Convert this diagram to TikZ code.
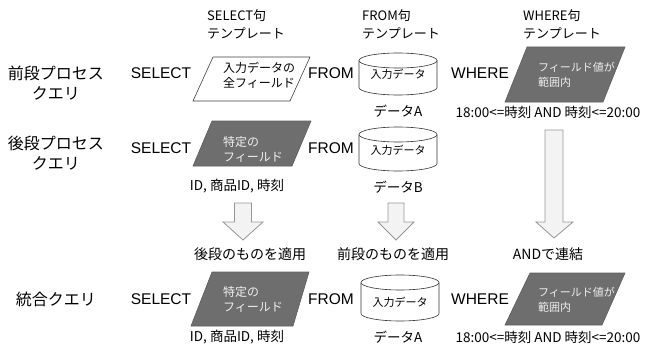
\documentclass[tikz,border=0pt]{standalone}
\usepackage{fontspec}
\setmainfont{Noto Sans CJK JP}
\newfontfamily\lat{Liberation Sans}
\usetikzlibrary{calc}
\definecolor{pgray}{RGB}{110,110,110}
\definecolor{ptext}{RGB}{238,238,238}
\definecolor{afill}{RGB}{243,243,243}
\definecolor{aline}{RGB}{150,150,150}
\begin{document}
\begin{tikzpicture}[x=1pt,y=-1pt,
  lbl/.style={font=\fontsize{16}{20}\selectfont, align=center, inner sep=0pt},
  kw/.style={font=\lat\fontsize{15.5}{19}\selectfont, inner sep=0pt},
  hdr/.style={font=\fontsize{13}{18}\selectfont, align=left, anchor=west, inner sep=0pt},
  captxt/.style={font=\fontsize{13.5}{16}\selectfont, inner sep=0pt},
  mid/.style={font=\fontsize{14}{16}\selectfont, inner sep=0pt},
  ptw/.style={font=\fontsize{12}{15}\selectfont, align=left, anchor=west, inner sep=0pt, text=black},
  ptg/.style={font=\fontsize{12}{15}\selectfont, align=left, anchor=west, inner sep=0pt, text=ptext},
  ptgs/.style={font=\fontsize{11}{15}\selectfont, align=left, anchor=west, inner sep=0pt, text=ptext},
  cyltxt/.style={font=\fontsize{11}{14}\selectfont, inner sep=0pt},
  pwhite/.style={draw=black!75, fill=white, line width=0.6pt},
  pdark/.style={draw=pgray!85!black, fill=pgray, line width=0.6pt},
  cylst/.style={draw=black!80, fill=white, line width=0.6pt},
  arr/.style={fill=afill, draw=aline, line width=0.8pt, line join=miter}
]
\useasboundingbox (0,0) rectangle (645,353);

% headers
\node[hdr] (hs) at (207,24) {SELECT句\\テンプレート};
\node[hdr] (hf) at (362,24) {FROM句\\テンプレート};
\node[hdr] (hw) at (523,24) {WHERE句\\テンプレート};

% left labels
\node[lbl] (q1) at (56,83) {前段プロセス\\クエリ};
\node[lbl] (q2) at (56,153) {後段プロセス\\クエリ};
\node[lbl] (q3) at (56,299) {統合クエリ};

% keywords
\node[kw] (s1) at (161,73) {SELECT};
\node[kw] (s2) at (161,148) {SELECT};
\node[kw] (s3) at (161,299) {SELECT};
\node[kw] (f1) at (331,73) {FROM};
\node[kw] (f2) at (331,148) {FROM};
\node[kw] (f3) at (331,299) {FROM};
\node[kw] (w1) at (480,73) {WHERE};
\node[kw] (w3) at (480,299) {WHERE};

% SELECT parallelograms
\begin{scope}[shift={(251.5,79)}]
  \draw[pwhite] (-58.5,22) -- (38.5,22) -- (58.5,-22) -- (-38.5,-22) -- cycle;
\end{scope}
\node[ptw] (sp1) at (223,75) {入力データの\\全フィールド};
\begin{scope}[shift={(252,143.5)}]
  \draw[pdark] (-59,22.5) -- (40,22.5) -- (59,-22.5) -- (-40,-22.5) -- cycle;
\end{scope}
\node[ptg] (sp2) at (223,149) {特定の\\フィールド};
\begin{scope}[shift={(250,299)}]
  \draw[pdark] (-59,27) -- (43,27) -- (59,-27) -- (-38,-27) -- cycle;
\end{scope}
\node[ptg] (sp3) at (223,299.5) {特定の\\フィールド};

% WHERE parallelograms
\begin{scope}[shift={(565,74.5)}]
  \draw[pdark] (-60,27.5) -- (38,27.5) -- (60,-27.5) -- (-38,-27.5) -- cycle;
\end{scope}
\node[ptgs] (wp1) at (538,74.5) {フィールド値が\\範囲内};
\begin{scope}[shift={(565,299)}]
  \draw[pdark] (-60,26) -- (37,26) -- (60,-26) -- (-35,-26) -- cycle;
\end{scope}
\node[ptgs] (wp3) at (538,299.5) {フィールド値が\\範囲内};

% cylinders: center x / top / bottom / text y
\foreach \cx/\ct/\cb/\ty/\nm in {398/53/95/74/c1, 398/127/171/150/c2, 400/275/321/302/c3}{
  \draw[cylst] (\cx-39,\ct+7.5) -- (\cx-39,\cb-7.5) arc (180:0:39 and 7.5) -- (\cx+39,\ct+7.5);
  \draw[cylst] (\cx,\ct+7.5) ellipse (39 and 7.5);
  \node[cyltxt] (\nm) at (\cx,\ty) {入力データ};
}

% captions
\node[captxt] (da1) at (398,111) {データA};
\node[captxt] (db) at (398,187) {データB};
\node[captxt] (da3) at (398,337) {データA};
\node[captxt] (id2) at (237,186) {ID, 商品ID, 時刻};
\node[captxt] (id3) at (237,337) {ID, 商品ID, 時刻};
\node[captxt] (t1) at (548,112) {18:00<=時刻 AND 時刻<=20:00};
\node[captxt] (t3) at (548,337) {18:00<=時刻 AND 時刻<=20:00};

% arrows
\draw[arr] (234.5,203) -- (251.5,203) -- (251.5,222) -- (263,222) -- (243,240) -- (223,222) -- (234.5,222) -- cycle;
\draw[arr] (388,203) -- (404,203) -- (404,222) -- (414,222) -- (396,240) -- (378,222) -- (388,222) -- cycle;
\draw[arr] (545,130) -- (563,130) -- (563,222) -- (573,222) -- (554,238) -- (536,222) -- (545,222) -- cycle;

% middle labels
\node[mid] (m1) at (250,254) {後段のものを適用};
\node[mid] (m2) at (393,254) {前段のものを適用};
\node[mid] (m3) at (548,254) {ANDで連結};
\end{tikzpicture}
\end{document}
